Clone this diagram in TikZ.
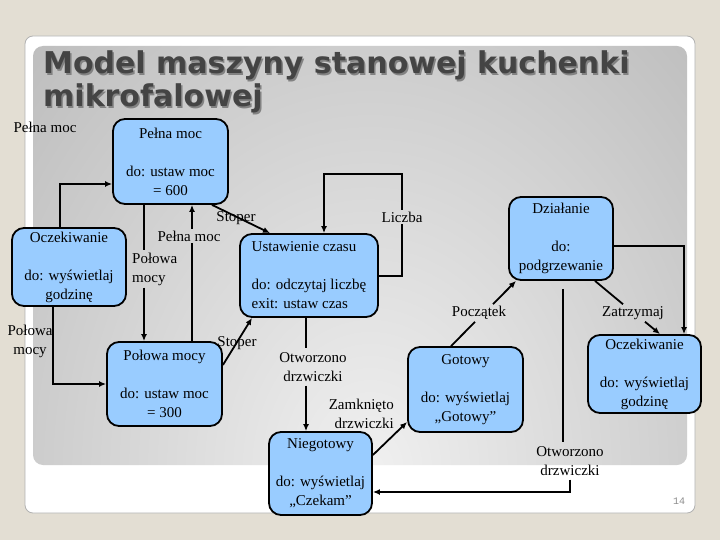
\documentclass[tikz,border=0pt]{standalone}
\usepackage{fontspec}
\setmainfont{Liberation Serif}
\newfontfamily\titlefont{DejaVu Sans}
\newfontfamily\numfont{Liberation Mono}
\usetikzlibrary{arrows.meta}
\definecolor{pagebg}{RGB}{227,222,211}
\definecolor{boxblue}{RGB}{153,204,255}
\definecolor{titlegray}{RGB}{68,68,68}
\definecolor{titleshadow}{RGB}{130,130,130}
\definecolor{bgin}{RGB}{240,240,240}
\definecolor{bgout}{RGB}{147,147,147}
\pgfdeclareradialshading{bgshade}{\pgfpointorigin}{color(0bp)=(bgin); color(50bp)=(bgout)}
\newcommand\stfont{\fontsize{15}{19}\selectfont}
\newcommand\ttlfont{\titlefont\bfseries\fontsize{30}{34}\selectfont}
\tikzset{
  state/.style={draw=black, line width=1.8pt, rounded corners=12pt, fill=boxblue,
    align=center, inner sep=0pt, font=\stfont, text=black},
  lbl/.style={font=\stfont, align=center, inner sep=2pt, text=black},
  conn/.style={line width=1.8pt, draw=black},
  arr/.style={conn, -{Latex[length=7pt,width=6pt]}},
  ttl/.style={font=\ttlfont, anchor=base west, inner sep=0pt}
}
\begin{document}
\begin{tikzpicture}[x=1pt,y=-1pt]
\useasboundingbox (0,0) rectangle (720,540);
% background
\fill[pagebg] (0,0) rectangle (720,540);
\filldraw[fill=white, draw=black!30, line width=0.8pt, rounded corners=8pt] (25,36) rectangle (695,513);
\begin{scope}
  \clip[rounded corners=10pt] (33,46) rectangle (687,465);
  \shade[shading=bgshade] (-70,-90) rectangle (810,1030);
\end{scope}
% title
\node[ttl, text=titleshadow] (t1s) at (44.5,75.5) {Model maszyny stanowej kuchenki};
\node[ttl, text=titleshadow] (t2s) at (44.5,108.5) {mikrofalowej};
\node[ttl, text=titlegray] (t1) at (43,74) {Model maszyny stanowej kuchenki};
\node[ttl, text=titlegray] (t2) at (43,107) {mikrofalowej};
% states
\node[state, minimum width=115pt, minimum height=85pt] (pm) at (170.5,161.5) {Pełna moc\\[19pt]do: ustaw moc\\{= 600}};
\node[state, minimum width=114pt, minimum height=78pt] (ocL) at (69,267) {Oczekiwanie\\[19pt]do: wyświetlaj\\godzinę};
\node[state, align=left, minimum width=138pt, minimum height=83pt] (ust) at (309,275.5) {Ustawienie czasu\\[19pt]do: odczytaj liczbę\\exit: ustaw czas};
\node[state, minimum width=104pt, minimum height=83pt] (dz) at (561,238.5) {Działanie\\[19pt]do:\\podgrzewanie};
\node[state, minimum width=113pt, minimum height=78pt] (ocR) at (644.5,374) {Oczekiwanie\\[19pt]do: wyświetlaj\\godzinę};
\node[state, minimum width=115pt, minimum height=85pt] (got) at (465.5,389.5) {Gotowy\\[19pt]do: wyświetlaj\\„Gotowy”};
\node[state, minimum width=115pt, minimum height=84pt] (pol) at (164.5,384) {Połowa mocy\\[19pt]do: ustaw moc\\{= 300}};
\node[state, minimum width=103pt, minimum height=83pt] (nie) at (320.5,473.5) {Niegotowy\\[19pt]do: wyświetlaj\\„Czekam”};
% labels
\node[lbl] (lPM1) at (45,127) {Pełna moc};
\node[lbl] (lPol1) at (30,341) {Połowa\\mocy};
\node[lbl, align=left, anchor=west] (lPol2) at (130,269) {Połowa\\mocy};
\node[lbl] (lPM2) at (189,236) {Pełna moc};
\node[lbl] (lSt1) at (236,218) {Stoper};
\node[lbl] (lLi) at (402,217) {Liczba};
\node[lbl] (lSt2) at (237,343) {Stoper};
\node[lbl, inner sep=4pt] (lOtw1) at (313,367) {Otworzono\\drzwiczki};
\node[lbl, align=right, anchor=east] (lZam) at (396,414) {Zamknięto\\drzwiczki};
\node[lbl] (lPocz) at (479,313) {Początek};
\node[lbl] (lZat) at (633,313) {Zatrzymaj};
\node[lbl, inner sep=4pt] (lOtw2) at (570,461) {Otworzono\\drzwiczki};
\node[font=\numfont\fontsize{10}{12}\selectfont, text=black!45] (pg) at (679,501) {14};
% connectors
\draw[arr] (60,0 |- ocL.north) |- (pm.west |- 0,184);
\draw[arr] (53,0 |- ocL.south) |- (pol.west |- 0,384);
\draw[conn] (144,0 |- pm.south) -- (144,0 |- lPol2.north);
\draw[arr] (144,0 |- lPol2.south) -- (144,0 |- pol.north);
\draw[conn] (192,0 |- pol.north) -- (192,0 |- lPM2.south);
\draw[arr] (192,0 |- lPM2.north) -- (192,0 |- pm.south);
\draw[arr] (212,0 |- pm.south) -- (270,0 |- ust.north);
\draw[conn] (ust.east |- 0,276) -| (lLi.south);
\draw[arr] (lLi.north) |- (324,174) -- (324,0 |- ust.north);
\draw[arr] (pol.east |- 0,365) -- (252,0 |- ust.south);
\draw[conn] (306,0 |- ust.south) -- (306,0 |- lOtw1.north);
\draw[arr] (306,0 |- lOtw1.south) -- (306,0 |- nie.north);
\draw[arr] (nie.east |- 0,455) -- (got.west |- 0,422);
\draw[conn] (451,0 |- got.north) -- (475,0 |- lPocz.south);
\draw[arr] (493,0 |- lPocz.north) -- (516,0 |- dz.south);
\draw[conn] (595,0 |- dz.south) -- (623,0 |- lZat.north);
\draw[arr] (645,0 |- lZat.south) -- (660,0 |- ocR.north);
\draw[arr] (dz.east |- 0,246) -| (684,0 |- ocR.north);
\draw[conn, shorten <=8pt] (563,0 |- dz.south) -- (563,0 |- lOtw2.north);
\draw[arr] (570,0 |- lOtw2.south) |- (nie.east |- 0,492);
\end{tikzpicture}
\end{document}
